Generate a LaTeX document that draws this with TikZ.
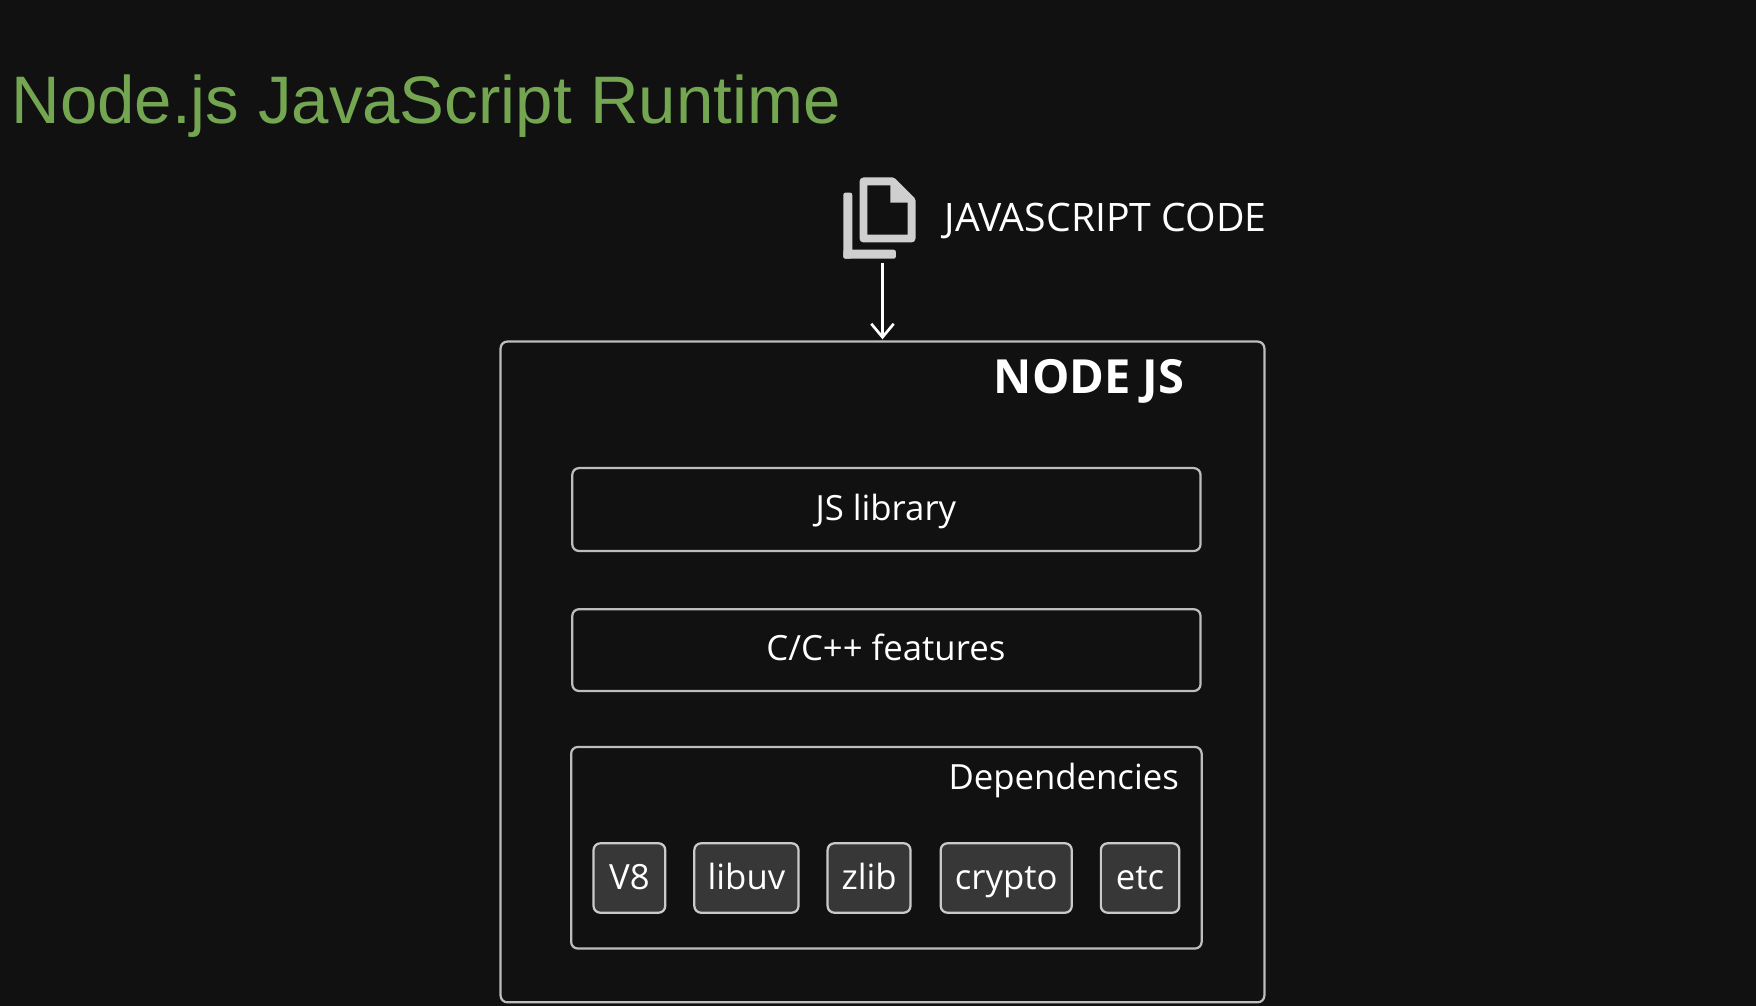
\documentclass[tikz,border=0pt]{standalone}
\usepackage{fontspec}
\usetikzlibrary{arrows.meta}
\setmainfont{Liberation Sans}
\newfontfamily\interf{Open Sans}
\definecolor{bg}{HTML}{111111}
\definecolor{ttl}{HTML}{74A652}
\definecolor{bord}{HTML}{BDBDBD}
\definecolor{ico}{HTML}{CFCFCF}
\begin{document}
\begin{tikzpicture}[x=0.5pt,y=-0.5pt,
  bx/.style={draw=bord,line width=1pt,rounded corners=3pt,fill=bg},
  sm/.style={draw=bord!80,line width=1pt,rounded corners=3pt,fill=white!16!bg,text=white,font=\interf\fontsize{15.5}{18}\selectfont,minimum height=31pt,inner sep=0pt,text height=11pt,text depth=1pt},
  lbl/.style={text=white,font=\interf\fontsize{15.5}{18}\selectfont,text height=11pt,text depth=1pt}]
\fill[bg] (0,0) rectangle (1568,898);
\useasboundingbox (0,0) rectangle (1568,898);
\node[anchor=base west,text=ttl,font=\fontsize{30}{34}\selectfont,inner sep=0] (title) at (10,110) {Node.js JavaScript Runtime};
% icon
\fill[ico,rounded corners=1pt] (753,172) rectangle (761,231);
\fill[ico,rounded corners=1pt] (753,223) rectangle (800,231);
\draw[ico,line width=3.5pt,line join=round] (771,162) -- (797,162) -- (814,179) -- (814,213) -- (771,213) -- cycle;
\fill[ico] (795,160) -- (816,181) -- (795,181) -- cycle;
\coordinate (icon) at (788,235);
\node[lbl,anchor=west,font=\interf\fontsize{17.5}{20}\selectfont,inner sep=0] (jsc) at (843,197) {JAVASCRIPT CODE};
\draw[bx,fill=none] (447,305) rectangle (1129,895);
\coordinate (top) at (788,303);
\draw[white,line width=1.2pt,-{Straight Barb[length=6pt,width=10pt]}] (icon) -- (top);
\node[text=white,font=\interf\bfseries\fontsize{21}{24}\selectfont,anchor=east,inner sep=0] (nj) at (1058,341) {NODE JS};
\draw[bx] (511,418) rectangle (1072,492);
\node[lbl] (jsl) at (791,455) {JS library};
\draw[bx] (511,544) rectangle (1072,617);
\node[lbl] (cpp) at (791,580) {C/C++ features};
\draw[bx] (510,667) rectangle (1073,847);
\node[lbl,anchor=east,inner sep=0] (dep) at (1053,695) {Dependencies};
\node[sm,minimum width=32pt] (v8) at (562,784) {V8};
\node[sm,minimum width=46.5pt] (uv) at (666.5,784) {libuv};
\node[sm,minimum width=37pt] (zl) at (776,784) {zlib};
\node[sm,minimum width=58.5pt] (cr) at (898.5,784) {crypto};
\node[sm,minimum width=35pt] (etc) at (1018,784) {etc};
\end{tikzpicture}
\end{document}
